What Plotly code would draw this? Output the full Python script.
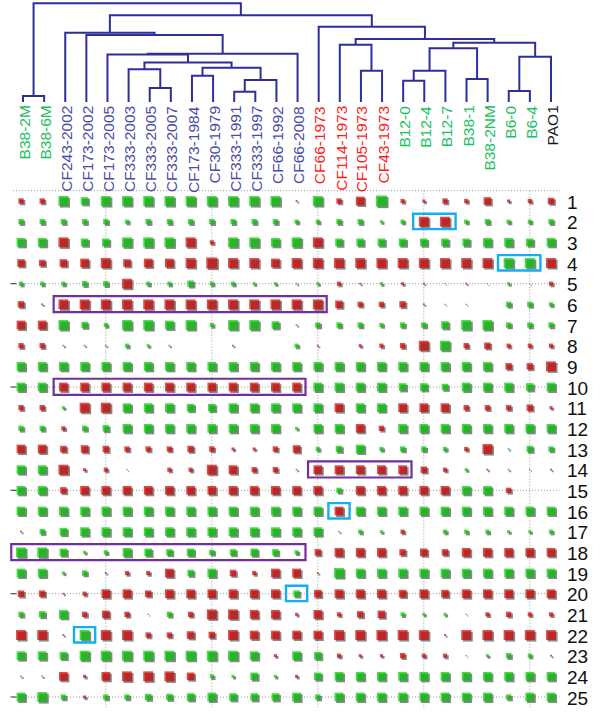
import plotly.graph_objects as go

# ---------------- data ----------------
strains = ["B38-2M", "B38-6M", "CF243-2002", "CF173-2002", "CF173-2005", "CF333-2003",
           "CF333-2005", "CF333-2007", "CF173-1984", "CF30-1979", "CF333-1991", "CF333-1997",
           "CF66-1992", "CF66-2008", "CF66-1973", "CF114-1973", "CF105-1973", "CF43-1973",
           "B12-0", "B12-4", "B12-7", "B38-1", "B38-2NM", "B6-0", "B6-4", "PAO1"]
strain_groups = (["env"] * 2 + ["cf_recent"] * 12 + ["cf_1973"] * 4 + ["env"] * 7 + ["ref"])

# hierarchical clustering merges: (name, child_a, child_b, height); leaves are indices
merges = [
    ("B38", 0, 1, 0.061),
    ("G", 6, 7, 0.142),
    ("E", 5, "G", 0.331),
    ("J", 10, 11, 0.104),
    ("H", 8, 9, 0.266),
    ("I", "J", 12, 0.223),
    ("F", "H", "I", 0.348),
    ("A", "E", "F", 0.400),
    ("D", 4, "A", 0.481),
    ("B", "D", 13, 0.489),
    ("N1", 3, "B", 0.679),
    ("NCF", 2, "N1", 0.702),
    ("P", 16, 17, 0.317),
    ("L", 15, "P", 0.581),
    ("T", 18, 19, 0.216),
    ("Q", "T", 20, 0.317),
    ("S", 21, 22, 0.233),
    ("N", "Q", "S", 0.544),
    ("U", 23, 24, 0.111),
    ("O", "U", 25, 0.459),
    ("M", "N", "O", 0.601),
    ("K", "L", "M", 0.638),
    ("R", 14, "K", 0.763),
    ("N15", "NCF", "R", 0.878),
    ("ROOT", "B38", "N15", 1.000),
]

row_labels = list(range(1, 26))

# signed scores: positive = red, negative = green, magnitude = strength (0 = none)
row_values = [
    [5, 5, -9, -7, -9, -9, -9, -9, -9, -9, -9, -9, -9, 2, -9, 5, 8, -10, 4, 3, 5, 4, 7, 3, 4, 6],
    [-5, -5, -5, -5, -5, -4, -5, -5, -5, -5, -5, -5, -5, -4, -4, -5, -5, -3, -4, 9, 9, -4, -5, -4, -4, -5],
    [-8, -8, 9, -7, -7, -9, -9, -9, 9, 4, -9, -9, -8, -9, 9, -7, -7, -7, -7, -7, -7, -7, -8, -8, -7, -8],
    [7, 6, 7, 8, 9, 7, 8, 8, 9, 10, 9, 9, 8, 9, 9, 9, 9, 9, 9, 9, 9, 9, 9, -9, -9, 9],
    [-4, -4, -4, -5, -5, 9, -4, -4, -6, -4, -4, -3, -3, -2, -3, 4, 2, -3, 3, 2, 1, 2, -1, -3, -1, 4],
    [6, 2, 9, 9, 9, 9, 9, 9, 9, 9, 9, 9, 9, 9, 9, 7, 5, 5, 6, 2, 1, 1, 0, -5, -5, -4],
    [8, 8, -9, -6, -4, -9, -9, -8, -9, -4, -9, -9, -7, -2, -5, -5, -5, -4, -5, -5, -7, -9, -9, -5, -5, -5],
    [5, 5, -2, -2, -2, -4, -3, -2, 0, 0, 2, 0, 0, -4, 2, 0, 3, 4, 5, 9, -9, 5, 6, 4, 4, 4],
    [-8, -8, -8, -8, -8, -8, -8, -8, -8, -8, -8, -8, -8, -8, -8, -8, -8, -8, -8, -8, -8, -8, -8, 6, 6, 9],
    [-8, -8, 8, 8, 8, 8, 8, 8, 8, 8, 8, 8, 8, 8, -8, -8, -8, -8, -7, -7, -6, -8, -8, -8, -7, -8],
    [5, 5, -3, 9, 9, -8, -8, -8, -7, -7, -8, -8, -8, -8, -8, 8, -8, -8, 8, 8, 8, 5, 5, 5, 6, 3],
    [-5, -5, 4, -5, -6, -8, -8, -8, -8, -8, -8, -8, -8, -3, -8, -8, 8, 5, -8, -8, -8, -8, -8, -8, -8, -8],
    [8, 8, 6, 7, 6, 5, 5, 5, 6, 5, 3, 3, 5, 7, -4, -6, -8, -4, -5, -5, -4, 4, 9, -2, -6, -5],
    [-8, -8, 9, 3, 4, 1, 0, 4, 4, 9, 8, 5, 5, -2, 8, 8, 8, 8, 8, 6, 4, -3, 2, -2, 1, 2],
    [-8, -8, 6, 8, 8, 8, 8, 8, 8, 8, 8, 8, 8, 8, 8, -5, 8, 8, 8, 8, 8, -8, -8, 5, 0, 0],
    [-8, -8, -8, -8, -8, -8, -8, -8, -8, -8, -8, -8, -8, -8, -8, 8, -8, -8, -8, -8, -8, -8, -8, -8, -8, -8],
    [2, -5, -7, -8, -8, -8, -8, -8, -8, -8, -8, -8, -8, -8, -8, -2, -4, -3, 4, 0, -4, -4, -4, -3, -3, -4],
    [-9, -9, -7, -3, -4, -8, -7, -6, -7, -5, -6, -7, -6, -4, 6, 8, 8, 8, 6, 7, 6, 8, 8, 8, 8, 8],
    [-8, -8, -3, -5, 2, 4, 4, 8, -6, -8, 6, 4, 8, 8, 2, -9, -8, -8, -8, -8, -8, -8, -8, -8, -8, -8],
    [6, 6, 2, 4, 8, 8, 6, 8, 8, 8, 8, 8, 8, -6, 7, 8, 8, 8, 7, 8, 7, 8, 8, 8, 8, 8],
    [-5, -6, -8, 5, 7, 5, 1, -5, 5, 9, 9, 8, 8, 3, 8, 4, 6, 7, -4, -3, -3, 1, 4, 5, 4, 4],
    [9, 9, 2, -9, 9, 9, 5, 5, 7, 6, 9, 8, 8, 8, 8, 9, 9, 9, 9, 9, 2, 9, 9, 9, 9, 9],
    [-8, -8, -7, -9, -9, -9, -9, -9, -9, -9, -9, -8, 3, -8, -7, 4, 3, 3, 5, 4, 4, 1, -3, -5, -4, 2],
    [-2, -2, 8, 3, 8, 9, 9, 9, 7, -4, -3, -7, -3, 3, -7, -8, -8, -8, -8, -8, -8, -8, -8, -8, -8, -8],
    [-8, -9, -5, 3, -5, -5, -6, -6, -7, -8, -7, -7, -7, -8, -5, -8, -8, -8, -8, -8, -8, -8, -8, -5, -8, -8],
]

# highlighted cells: (row, first column, last column)
purple_boxes = [(6, 3, 15), (10, 3, 14), (14, 15, 19), (18, 1, 14)]
cyan_boxes = [(2, 20, 21), (4, 24, 25), (16, 16, 16), (20, 14, 14), (22, 4, 4)]

# ---------------- styling / scales ----------------
W, H = 600, 712
RED, GREEN, SHADOW = "#d00000", "#00c800", "#555555"
DENDRO_COLOR = "#2f2f9c"
label_colors = {"env": "#1cc060", "cf_recent": "#4b4baa", "cf_1973": "#ff1c1c", "ref": "#1a1a1a"}
FONT = "Liberation Sans, Arial, sans-serif"

# grid axis: column c at 21 + (c-1)*21.2 px ; row r at 201 + (r-1)*20.667 px
col_px0, col_step = 21.0, 21.2
row_px0, row_step = 201.0, 20.667
x_range = [1 - col_px0 / col_step, 1 + (W - col_px0) / col_step]
y_range = [1 + (H - row_px0) / row_step, 1 - row_px0 / row_step]   # reversed
px_per_col = W / (x_range[1] - x_range[0])
px_per_row = H / (y_range[0] - y_range[1])

# dendrogram axis: leaf i at 23 + i*21.12 px, height h at 102 - h*98.7 px
leaf_px0, leaf_step = 23.0, 21.12
base_px, h_scale = 102.0, 98.7
x2_range = [-leaf_px0 / leaf_step, (W - leaf_px0) / leaf_step]
y2_range = [(base_px - H) / h_scale, base_px / h_scale]

fig = go.Figure()

# ---------------- dendrogram ----------------
pos = {i: float(i) for i in range(len(strains))}
hgt = {i: 0.0 for i in range(len(strains))}
dx, dy = [], []
for name, a, b, h in merges:
    xa, xb = pos[a], pos[b]
    dx += [xa, xa, xb, xb, None]
    dy += [hgt[a], h, h, hgt[b], None]
    pos[name] = (xa + xb) / 2
    hgt[name] = h

fig.add_trace(go.Scatter(x=dx, y=dy, mode="lines", xaxis="x2", yaxis="y2",
                         line=dict(color=DENDRO_COLOR, width=2), hoverinfo="skip",
                         showlegend=False))

# strain labels
for i, s in enumerate(strains):
    fig.add_annotation(x=i, y=-0.04, xref="x2", yref="y2", text=s, textangle=-90,
                       xanchor="center", yanchor="top", showarrow=False, xshift=1.5,
                       font=dict(family=FONT, size=15.5, color=label_colors[strain_groups[i]]),
                       borderpad=0, borderwidth=0)

# ---------------- grid of squares ----------------
n_rows, n_cols = len(row_values), len(strains)
cols = list(range(1, n_cols + 1))

def size_of(v):
    return max(abs(v) * 1.15 - 0.4, 1.2)

sx, sy, ss = [], [], []
rx, ry, rs = [], [], []
gx, gy, gs = [], [], []
for r, vals in zip(row_labels, row_values):
    for c, v in zip(cols, vals):
        if v == 0:
            continue
        sz = size_of(v)
        sx.append(c); sy.append(r); ss.append(sz)
        if v > 0:
            rx.append(c); ry.append(r); rs.append(sz)
        else:
            gx.append(c); gy.append(r); gs.append(sz)

shadow_off = 1.6
fig.add_trace(go.Scatter(x=[v + shadow_off / px_per_col for v in sx],
                         y=[v + shadow_off / px_per_row for v in sy],
                         mode="markers", hoverinfo="skip", showlegend=False,
                         marker=dict(symbol="square", size=ss, color=SHADOW, line=dict(width=0))))
fig.add_trace(go.Scatter(x=rx, y=ry, mode="markers", showlegend=False,
                         marker=dict(symbol="square", size=rs, color=RED, line=dict(width=0))))
fig.add_trace(go.Scatter(x=gx, y=gy, mode="markers", showlegend=False,
                         marker=dict(symbol="square", size=gs, color=GREEN, line=dict(width=0))))

# dotted reference lines
dot = dict(color="#9a9a9a", width=1, dash="1px,2px")
x_lo, x_hi = 0.62, 26.4
shapes = [dict(type="line", xref="x", yref="y", x0=x_lo, x1=x_hi, y0=0.5, y1=0.5, line=dot, layer="below")]
for r in row_labels:
    if r % 5 == 0:
        shapes.append(dict(type="line", xref="x", yref="y", x0=x_lo, x1=x_hi, y0=r, y1=r,
                           line=dot, layer="below"))
        shapes.append(dict(type="line", xref="x", yref="y", x0=0.5, x1=0.78, y0=r, y1=r,
                           line=dict(color="#555555", width=1.2)))
for c in cols:
    if c % 5 == 0:
        shapes.append(dict(type="line", xref="x", yref="y", x0=c, x1=c, y0=0.5, y1=25.5,
                           line=dot, layer="below"))

# highlight boxes
for r, c0, c1 in purple_boxes:
    shapes.append(dict(type="rect", xref="x", yref="y", x0=c0 - 0.46, x1=c1 + 0.42,
                       y0=r - 0.4, y1=r + 0.38, line=dict(color="#7030a0", width=2.2)))
for r, c0, c1 in cyan_boxes:
    shapes.append(dict(type="rect", xref="x", yref="y", x0=c0 - 0.5, x1=c1 + 0.5,
                       y0=r - 0.38, y1=r + 0.36, line=dict(color="#14aff0", width=2.4)))

# row numbers
for r in row_labels:
    fig.add_annotation(x=565 / W, y=r, xref="paper", yref="y", text=str(r), showarrow=False,
                       xanchor="left", yanchor="middle", yshift=-1,
                       font=dict(family=FONT, size=19, color="#111111"))

fig.update_layout(
    width=W, height=H, margin=dict(l=0, r=0, t=0, b=0),
    paper_bgcolor="white", plot_bgcolor="white", shapes=shapes,
    xaxis=dict(range=x_range, domain=[0, 1], visible=False, fixedrange=True),
    yaxis=dict(range=y_range, domain=[0, 1], visible=False, fixedrange=True),
    xaxis2=dict(range=x2_range, domain=[0, 1], visible=False, overlaying="x", anchor="y2"),
    yaxis2=dict(range=y2_range, domain=[0, 1], visible=False, overlaying="y", anchor="x2"),
)

fig.write_html("out.html", config={"displayModeBar": False},
               post_script="document.body.style.margin='0';document.body.style.padding='0';"
                           "document.body.style.overflow='hidden';")
